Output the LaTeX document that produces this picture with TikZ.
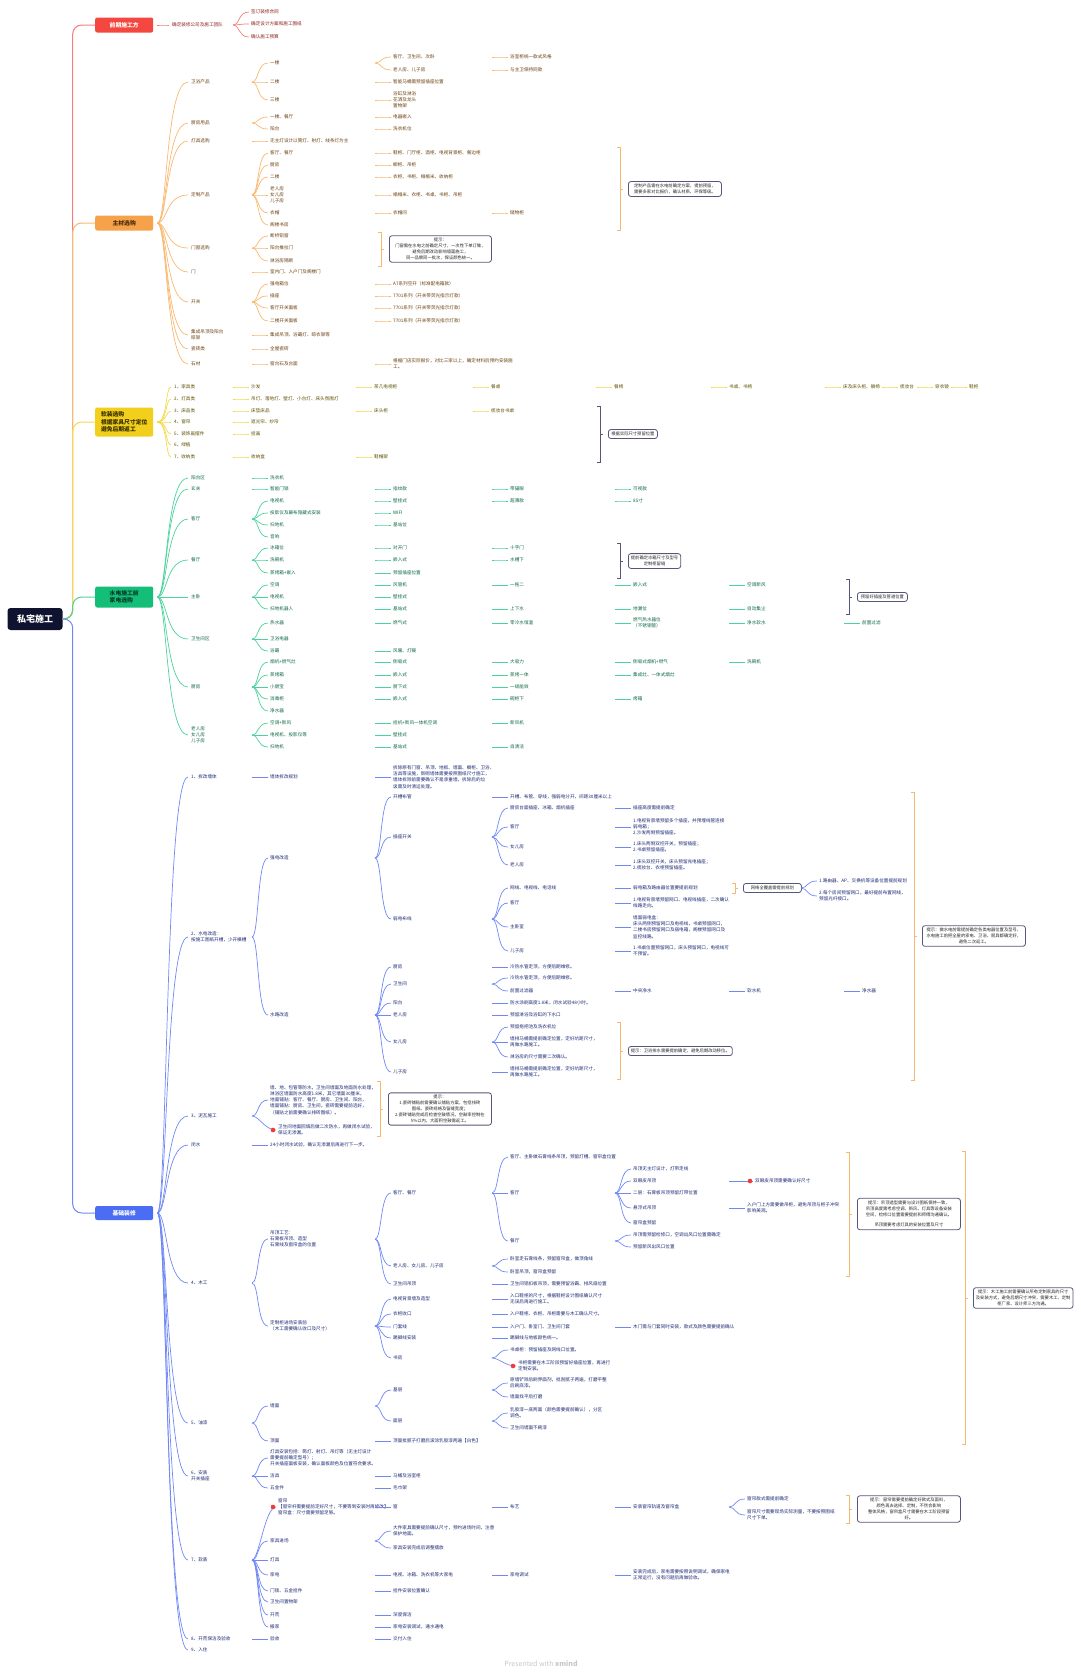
\documentclass[tikz,border=0pt]{standalone}
\usepackage{fontspec}
\setmainfont{Noto Sans CJK SC}
\usetikzlibrary{calc}

\definecolor{rootC}{HTML}{10132F}
\definecolor{redC}{HTML}{F4473F}
\definecolor{redL}{HTML}{F77D78}
\definecolor{redT}{HTML}{8A1F1A}
\definecolor{orC}{HTML}{F6A24A}
\definecolor{orL}{HTML}{F9B870}
\definecolor{orT}{HTML}{6B3E0C}
\definecolor{yeC}{HTML}{F1CF1C}
\definecolor{yeL}{HTML}{F3D94C}
\definecolor{yeT}{HTML}{5E4F00}
\definecolor{grC}{HTML}{14BE79}
\definecolor{grL}{HTML}{4CD29C}
\definecolor{grT}{HTML}{0B6641}
\definecolor{blC}{HTML}{4B6DF4}
\definecolor{blL}{HTML}{7088F6}
\definecolor{blT}{HTML}{1B2873}
\definecolor{boxD}{HTML}{56567A}
\definecolor{dotC}{HTML}{F23B36}

% child of a main topic
\newcommand{\brn}[5]{%
  \node[leaf#1] (#3) at (#4) {#5};
  \draw[line#1] ($(#2.east)+(4,0)$) .. controls ($(#2.east)+(14,0)$) and ($(#2.east |- #3.west)+(12,0)$) .. ($(#3.west)+(-3,0)$);}
% child of a sub topic
\newcommand{\kid}[6][18]{%
  \node[leaf#2] (#4) at (#5) {#6};
  \draw[line#2] ($(#4.west |- #3.west)+(-#1,0)$) .. controls ($(#4.west |- #3.west)+(-#1+7,0)$) and ($(#4.west)+(-13,0)$) .. ($(#4.west)+(-2,0)$);}
% summary box with its bracket
\newcommand{\summ}[6][60]{%
  \node[sumbox, minimum width=#1] (#3) at (#4) {#6};
  \draw[#2] ($(#3.west)+(-11,-#5)$) -- ++(3,0) -- ++(0,2*#5) -- ++(-3,0);
  \draw[#2] ($(#3.west)+(-8,0)$) -- ++(3,0);}

\begin{document}
\begin{tikzpicture}[x=1pt, y=-1pt, font=\fontsize{4.6}{6.2}\selectfont,
    leaf/.style={anchor=west, inner xsep=0pt, inner ysep=0.5pt, align=left},
    leafR/.style={leaf, text=redT}, leafO/.style={leaf, text=orT},
    leafY/.style={leaf, text=yeT}, leafG/.style={leaf, text=grT},
    leafB/.style={leaf, text=blT},
    lineR/.style={draw=redL, line width=0.7pt}, lineO/.style={draw=orL, line width=0.7pt},
    lineY/.style={draw=yeL, line width=0.7pt}, lineG/.style={draw=grL, line width=0.7pt},
    lineB/.style={draw=blL, line width=0.7pt},
    trunk/.style={line width=1pt, rounded corners=9pt},
    rootbox/.style={rounded corners=3pt, fill=rootC, text=white, minimum width=55pt, minimum height=22pt, font=\fontsize{9}{11}\selectfont\bfseries},
    mainbox/.style={anchor=west, rounded corners=2pt, minimum width=58pt, inner xsep=5pt, align=left, font=\fontsize{5.8}{7.4}\selectfont\bfseries},
    sumbox/.style={anchor=west, draw=boxD, line width=0.8pt, rounded corners=2.5pt, fill=white, align=center, text=black!85, font=\fontsize{4.3}{5.8}\selectfont, inner sep=2.5pt},
    brO/.style={draw=orL, line width=0.8pt}, brD/.style={draw=boxD, line width=0.8pt}]

    \useasboundingbox (0,0) rectangle (1080,1674);

    % Root and main topics
    \node[rootbox] (root) at (35,619) {私宅施工};
    \node[mainbox, fill=redC, text=white, minimum height=15pt] (pre) at (95,25) {前期施工方};
    \node[mainbox, fill=orC, text=orT!70!black, minimum height=15pt] (mat) at (95,223) {主材选购};
    \node[mainbox, fill=yeC, text=yeT!60!black, minimum height=29pt] (soft) at (95,422) {软装选购\\根据家具尺寸定位\\避免后期返工};
    \node[mainbox, fill=grC, text=grT!60!black, minimum height=21pt] (elec) at (95,597) {水电施工前\\家电选购};
    \node[mainbox, fill=blC, text=white, minimum height=14pt] (base) at (95,1213) {基础装修};

    \draw[trunk, draw=redL] (root.east) -- ++(10,0) |- (pre.west);
    \draw[trunk, draw=orL] (root.east) -- ++(10,0) |- (mat.west);
    \draw[trunk, draw=yeL] (root.east) -- ++(10,0) |- (soft.west);
    \draw[trunk, draw=grL] (root.east) -- ++(10,0) |- (elec.west);
    \draw[trunk, draw=blL] (root.east) -- ++(10,0) |- (base.west);

    % Red branch
    \brn{R}{pre}{r1}{172,25}{确定装修公司及施工团队}
    \kid{R}{r1}{r1a}{251,12}{签订装修合同}
    \kid{R}{r1}{r1b}{251,24}{确定设计方案和施工图纸}
    \kid{R}{r1}{r1c}{251,37}{确认施工预算}

    % Orange branch
    \brn{O}{mat}{o1}{191,82}{卫浴产品}
    \kid{O}{o1}{o1a}{270,63}{一楼}
    \kid{O}{o1}{o1b}{270,82}{二楼}
    \kid{O}{o1}{o1c}{270,100}{三楼}
    \kid{O}{o1a}{o1a1}{393,57}{客厅、卫生间、次卧}
    \kid{O}{o1a}{o1a2}{393,70}{老人房、儿子房}
    \kid{O}{o1a1}{o1a1x}{510,57}{浴室柜统一款式风格}
    \kid{O}{o1a2}{o1a2x}{510,70}{与主卫保持同款}
    \kid{O}{o1b}{o1b1}{393,82}{智能马桶需预留插座位置}
    \kid{O}{o1c}{o1c1}{393,100}{浴缸及淋浴\\花洒及龙头\\置物架}

    \brn{O}{mat}{o2}{191,123}{厨房用品}
    \kid{O}{o2}{o2a}{270,117}{一楼、餐厅}
    \kid{O}{o2}{o2b}{270,129}{阳台}
    \kid{O}{o2a}{o2a1}{393,117}{电器嵌入}
    \kid{O}{o2b}{o2b1}{393,129}{洗衣机位}

    \brn{O}{mat}{o3}{191,141}{灯具选购}
    \kid{O}{o3}{o3a}{270,141}{无主灯设计以筒灯、射灯、线条灯为主}

    \brn{O}{mat}{o4}{191,195}{定制产品}
    \kid{O}{o4}{o4a}{270,153}{客厅、餐厅}
    \kid{O}{o4}{o4b}{270,165}{厨房}
    \kid{O}{o4}{o4c}{270,177}{二楼}
    \kid{O}{o4}{o4d}{270,195}{老人房\\女儿房\\儿子房}
    \kid{O}{o4}{o4e}{270,213}{衣帽}
    \kid{O}{o4}{o4f}{270,225}{阁楼书房}
    \kid{O}{o4a}{o4a1}{393,153}{鞋柜、门厅柜、酒柜、电视背景柜、餐边柜}
    \kid{O}{o4b}{o4b1}{393,165}{橱柜、吊柜}
    \kid{O}{o4c}{o4c1}{393,177}{衣柜、书柜、榻榻米、收纳柜}
    \kid{O}{o4d}{o4d1}{393,195}{榻榻米、衣柜、书桌、书柜、吊柜}
    \kid{O}{o4e}{o4e1}{393,213}{衣帽间}
    \kid{O}{o4e1}{o4e2}{510,213}{储物柜}
    \summ[93]{brO}{s1}{628,189}{41.5}{定制产品需在水电前确定方案，提前预留，\\需要多家对比报价，确认材质、环保等级。}

    \brn{O}{mat}{o5}{191,248}{门窗选购}
    \kid{O}{o5}{o5a}{270,236}{断桥铝窗}
    \kid{O}{o5}{o5b}{270,248}{阳台推拉门}
    \kid{O}{o5}{o5c}{270,261}{淋浴房隔断}
    \summ[102]{brO}{s2}{389,249}{17}{提示：\\门窗需在水电之前确定尺寸，一次性下单订做，\\避免后期改动影响墙面施工，\\同一品牌同一批次，保证颜色统一。}

    \brn{O}{mat}{o6}{191,272}{门}
    \kid{O}{o6}{o6a}{270,272}{室内门、入户门及阁楼门}

    \brn{O}{mat}{o7}{191,302}{开关}
    \kid{O}{o7}{o7a}{270,284}{强电箱位}
    \kid{O}{o7}{o7b}{270,296}{插座}
    \kid{O}{o7}{o7c}{270,308}{客厅开关面板}
    \kid{O}{o7}{o7d}{270,321}{二楼开关面板}
    \kid{O}{o7a}{o7a1}{393,284}{A7系列空开（标准配电箱款）}
    \kid{O}{o7b}{o7b1}{393,296}{7701系列（开关带荧光指示灯款）}
    \kid{O}{o7c}{o7c1}{393,308}{7701系列（开关带荧光指示灯款）}
    \kid{O}{o7d}{o7d1}{393,321}{7701系列（开关带荧光指示灯款）}

    \brn{O}{mat}{o8}{191,335}{集成吊顶及阳台\\晾架}
    \kid{O}{o8}{o8a}{270,335}{集成吊顶、浴霸灯、晾衣架等}
    \brn{O}{mat}{o9}{191,349}{瓷砖类}
    \kid{O}{o9}{o9a}{270,349}{全屋瓷砖}
    \brn{O}{mat}{o10}{191,364}{石材}
    \kid{O}{o10}{o10a}{270,364}{窗台石及台面}
    \kid{O}{o10a}{o10a1}{393,364}{根据门店实际报价，对比三家以上，确定材料后预约安装施\\工。}

    % Yellow branch
    \brn{Y}{soft}{y1}{174,387}{1、家具类}
    \brn{Y}{soft}{y2}{174,399}{2、灯具类}
    \brn{Y}{soft}{y3}{174,411}{3、床品类}
    \brn{Y}{soft}{y4}{174,422}{4、窗帘}
    \brn{Y}{soft}{y5}{174,434}{5、装饰画摆件}
    \brn{Y}{soft}{y6}{174,445}{6、绿植}
    \brn{Y}{soft}{y7}{174,457}{7、收纳类}
    \kid{Y}{y1}{y1a}{251,387}{沙发}
    \kid{Y}{y1a}{y1b}{374,387}{茶几电视柜}
    \kid{Y}{y1b}{y1c}{491,387}{餐桌}
    \kid{Y}{y1c}{y1d}{614,387}{餐椅}
    \kid{Y}{y1d}{y1e}{729,387}{书桌、书椅}
    \kid{Y}{y1e}{y1f}{843,387}{床及床头柜、躺椅}
    \kid{Y}{y1f}{y1g}{900,387}{梳妆台}
    \kid{Y}{y1g}{y1h}{935,387}{穿衣镜}
    \kid{Y}{y1h}{y1i}{969,387}{鞋柜}
    \kid{Y}{y2}{y2a}{251,399}{吊灯、落地灯、壁灯、小台灯、床头氛围灯}
    \kid{Y}{y3}{y3a}{251,411}{床垫床品}
    \kid{Y}{y3a}{y3b}{374,411}{床头柜}
    \kid{Y}{y3b}{y3c}{491,411}{梳妆台书桌}
    \kid{Y}{y4}{y4a}{251,422}{遮光帘、纱帘}
    \kid{Y}{y5}{y5a}{251,434}{挂画}
    \kid{Y}{y7}{y7a}{251,457}{收纳盒}
    \kid{Y}{y7a}{y7b}{374,457}{鞋帽架}
    \summ[49]{brD}{s3}{608,434}{28}{根据实际尺寸预留位置}

    % Green branch
    \brn{G}{elec}{g1}{191,478}{阳台区}
    \kid{G}{g1}{g1a}{270,478}{洗衣机}
    \brn{G}{elec}{g2}{191,489}{玄关}
    \kid{G}{g2}{g2a}{270,489}{智能门锁}
    \kid{G}{g2a}{g2b}{393,489}{指纹款}
    \kid{G}{g2b}{g2c}{510,489}{带猫眼}
    \kid{G}{g2c}{g2d}{633,489}{可视款}

    \brn{G}{elec}{g3}{191,519}{客厅}
    \kid{G}{g3}{g3a}{270,501}{电视机}
    \kid{G}{g3}{g3b}{270,513}{投影仪及幕布隐藏式安装}
    \kid{G}{g3}{g3c}{270,525}{扫地机}
    \kid{G}{g3}{g3d}{270,537}{音响}
    \kid{G}{g3a}{g3a1}{393,501}{壁挂式}
    \kid{G}{g3b}{g3b1}{393,513}{WIFI}
    \kid{G}{g3c}{g3c1}{393,525}{基站位}
    \kid{G}{g3a1}{g3a2}{510,501}{超薄款}
    \kid{G}{g3a2}{g3a3}{633,501}{85寸}

    \brn{G}{elec}{g4}{191,560}{餐厅}
    \kid{G}{g4}{g4a}{270,548}{冰箱位}
    \kid{G}{g4}{g4b}{270,560}{洗碗机}
    \kid{G}{g4}{g4c}{270,573}{蒸烤箱+嵌入}
    \kid{G}{g4a}{g4a1}{393,548}{对开门}
    \kid{G}{g4b}{g4b1}{393,560}{嵌入式}
    \kid{G}{g4c}{g4c1}{393,573}{预留插座位置}
    \kid{G}{g4a1}{g4a2}{510,548}{十字门}
    \kid{G}{g4b1}{g4b2}{510,560}{水槽下}
    \summ[49]{brD}{s4}{628,561}{17.5}{提前确定冰箱尺寸及型号\\定制柜留缝}

    \brn{G}{elec}{g5}{191,597}{主卧}
    \kid{G}{g5}{g5a}{270,585}{空调}
    \kid{G}{g5}{g5b}{270,597}{电视机}
    \kid{G}{g5}{g5c}{270,609}{扫地机器人}
    \kid{G}{g5a}{g5a1}{393,585}{风管机}
    \kid{G}{g5b}{g5b1}{393,597}{壁挂式}
    \kid{G}{g5c}{g5c1}{393,609}{基站式}
    \kid{G}{g5a1}{g5a2}{510,585}{一拖二}
    \kid{G}{g5c1}{g5c2}{510,609}{上下水}
    \kid{G}{g5a2}{g5a3}{633,585}{嵌入式}
    \kid{G}{g5c2}{g5c3}{633,609}{地漏位}
    \kid{G}{g5a3}{g5a4}{747,585}{空调新风}
    \kid{G}{g5c3}{g5c4}{747,609}{自动集尘}
    \summ[50]{brD}{s5}{857,597}{17.5}{预留好插座及管道位置}

    \brn{G}{elec}{g6}{191,639}{卫生间区}
    \kid{G}{g6}{g6a}{270,623}{热水器}
    \kid{G}{g6}{g6b}{270,639}{卫浴电器}
    \kid{G}{g6}{g6c}{270,651}{浴霸}
    \kid{G}{g6a}{g6a1}{393,623}{燃气式}
    \kid{G}{g6c}{g6c1}{393,651}{风暖、灯暖}
    \kid{G}{g6a1}{g6a2}{510,623}{零冷水恒温}
    \kid{G}{g6a2}{g6a3}{633,623}{燃气热水器位\\（不锈钢管）}
    \kid{G}{g6a3}{g6a4}{747,623}{净水软水}
    \kid{G}{g6a4}{g6a5}{862,623}{前置过滤}

    \brn{G}{elec}{g7}{191,687}{厨房}
    \kid{G}{g7}{g7a}{270,662}{烟机+燃气灶}
    \kid{G}{g7}{g7b}{270,675}{蒸烤箱}
    \kid{G}{g7}{g7c}{270,687}{小厨宝}
    \kid{G}{g7}{g7d}{270,699}{消毒柜}
    \kid{G}{g7}{g7e}{270,711}{净水器}
    \kid{G}{g7a}{g7a1}{393,662}{侧吸式}
    \kid{G}{g7b}{g7b1}{393,675}{嵌入式}
    \kid{G}{g7c}{g7c1}{393,687}{厨下式}
    \kid{G}{g7d}{g7d1}{393,699}{嵌入式}
    \kid{G}{g7a1}{g7a2}{510,662}{大吸力}
    \kid{G}{g7b1}{g7b2}{510,675}{蒸烤一体}
    \kid{G}{g7c1}{g7c2}{510,687}{一级能效}
    \kid{G}{g7d1}{g7d2}{510,699}{碗柜下}
    \kid{G}{g7a2}{g7a3}{633,662}{侧吸式烟机+燃气}
    \kid{G}{g7b2}{g7b3}{633,675}{集成灶、一体式烟灶}
    \kid{G}{g7d2}{g7d3}{633,699}{烤箱}
    \kid{G}{g7a3}{g7a4}{747,662}{洗碗机}

    \brn{G}{elec}{g8}{191,735}{老人房\\女儿房\\儿子房}
    \kid{G}{g8}{g8a}{270,723}{空调+新风}
    \kid{G}{g8}{g8b}{270,735}{电视机、投影仪等}
    \kid{G}{g8}{g8c}{270,747}{扫地机}
    \kid{G}{g8a}{g8a1}{393,723}{挂机+新风一体机空调}
    \kid{G}{g8b}{g8b1}{393,735}{壁挂式}
    \kid{G}{g8c}{g8c1}{393,747}{基站式}
    \kid{G}{g8a1}{g8a2}{510,723}{新风机}
    \kid{G}{g8c1}{g8c2}{510,747}{自清洁}

    % Blue branch
    \brn{B}{base}{b1}{191,777}{1、拆改墙体}
    \kid{B}{b1}{b1a}{270,777}{墙体拆改规划}
    \kid{B}{b1a}{b1a1}{393,777}{拆除原有门窗、吊顶、地板、墙面、橱柜、卫浴、\\洁具等设施，新砌墙体需要按照图纸尺寸施工，\\墙体拆除前需要确认不是承重墙，拆除后的垃\\圾需及时清运处理。}

    \brn{B}{base}{b2}{191,937}{2、水电改造：\\按施工图纸开槽，少开横槽}
    \kid{B}{b2}{b2a}{270,858}{强电改造}
    \kid{B}{b2}{b2b}{270,1015}{水路改造}
    \kid{B}{b2a}{b2a1}{393,797}{开槽布管}
    \kid{B}{b2a}{b2a2}{393,837}{插座开关}
    \kid{B}{b2a}{b2a3}{393,919}{弱电布线}
    \kid{B}{b2a1}{b2a1x}{510,797}{开槽、布管、穿线，强弱电分开，间距30厘米以上}
    \kid{B}{b2a2}{b2c1}{510,808}{厨房台面插座、冰箱、烟机插座}
    \kid{B}{b2a2}{b2c2}{510,827}{客厅}
    \kid{B}{b2a2}{b2c3}{510,847}{女儿房}
    \kid{B}{b2a2}{b2c4}{510,865}{老人房}
    \kid{B}{b2c1}{b2c1x}{633,808}{插座高度需提前确定}
    \kid{B}{b2c2}{b2c2x}{633,827}{1.电视背景墙预留多个插座，并预埋线管连接\\弱电箱；\\2.沙发两侧预留插座。}
    \kid{B}{b2c3}{b2c3x}{633,847}{1.床头两侧双控开关，预留插座；\\2.书桌预留插座。}
    \kid{B}{b2c4}{b2c4x}{633,865}{1.床头双控开关，床头预留充电插座；\\2.梳妆台、衣柜预留插座。}
    \kid{B}{b2a3}{b2d1}{510,888}{网线、电视线、电话线}
    \kid{B}{b2a3}{b2d2}{510,903}{客厅}
    \kid{B}{b2a3}{b2d3}{510,927}{主卧室}
    \kid{B}{b2a3}{b2d4}{510,951}{儿子房}
    \kid{B}{b2d1}{b2d1x}{633,888}{弱电箱及路由器位置要提前规划}
    \summ[58]{brO}{s6}{743,888}{5}{网络全覆盖需提前规划}
    \kid{B}{s6}{b2e1}{819,881}{1.路由器、AP、交换机等设备位置提前规划}
    \kid{B}{s6}{b2e2}{819,896}{2.每个房间预留网口，最好提前布置网线，\\预留光纤接口。}
    \kid{B}{b2d2}{b2d2x}{633,903}{1.电视背景墙预留网口、电视线插座，二次确认\\线路走向。}
    \kid{B}{b2d3}{b2d3x}{633,927}{墙面弱电盒：\\床头两侧预留网口及电视线，书桌预留网口，\\二楼书房预留网口及弱电箱，阁楼预留网口及\\监控线路。}
    \kid{B}{b2d4}{b2d4x}{633,951}{1.书桌位置预留网口，床头预留网口，电视线可\\不预留。}
    \kid{B}{b2b}{b2b1}{393,967}{厨房}
    \kid{B}{b2b}{b2b2}{393,984}{卫生间}
    \kid{B}{b2b}{b2b3}{393,1003}{阳台}
    \kid{B}{b2b}{b2b4}{393,1015}{老人房}
    \kid{B}{b2b}{b2b5}{393,1042}{女儿房}
    \kid{B}{b2b}{b2b6}{393,1072}{儿子房}
    \kid{B}{b2b1}{b2b1x}{510,967}{冷热水管走顶，方便后期维修。}
    \kid{B}{b2b2}{b2b2x}{510,978}{冷热水管走顶，方便后期维修。}
    \kid{B}{b2b2}{b2b2y}{510,991}{前置过滤器}
    \kid{B}{b2b2y}{b2b2z}{633,991}{中央净水}
    \kid{B}{b2b2z}{b2b2w}{747,991}{软水机}
    \kid{B}{b2b2w}{b2b2v}{862,991}{净水器}
    \kid{B}{b2b3}{b2b3x}{510,1003}{防水涂刷高度1.8米，闭水试验48小时。}
    \kid{B}{b2b4}{b2b4x}{510,1015}{预留淋浴及浴缸的下水口}
    \kid{B}{b2b5}{b2b5x}{510,1027}{预留拖把池及洗衣机位}
    \kid{B}{b2b5}{b2b5y}{510,1042}{墙排马桶需提前确定位置，定好坑距尺寸，\\再做水路施工。}
    \kid{B}{b2b5}{b2b5z}{510,1057}{淋浴房的尺寸需要二次确认。}
    \kid{B}{b2b6}{b2b6x}{510,1072}{墙排马桶需提前确定位置，定好坑距尺寸，\\再做水路施工。}
    \summ[98]{brO}{s7}{628,1051}{28.5}{提示：卫浴排水需要提前确定，避免后期改动移位。}
    \summ[103]{brO}{s8}{922,936}{144}{提示：做水电前需提前确定各类电器位置及型号，\\水电施工前把全屋的家电、卫浴、厨具都确定好，\\避免二次返工。}

    \brn{B}{base}{b3}{191,1116}{3、泥瓦施工}
    \kid{B}{b3}{b3a}{270,1100}{墙、地、包管等防水，卫生间墙面及地面防水处理，\\淋浴区墙面防水高度1.8米，其它墙面30厘米，\\地面铺贴：客厅、餐厅、厨房、卫生间、阳台，\\墙面铺贴：厨房、卫生间，瓷砖需要提前选好，\\（铺贴之前需要确认排砖图纸）。}
    \kid[26]{B}{b3}{b3b}{278,1130}{卫生间地面回填后做二次防水，再做闭水试验，\\保证无渗漏。}
    \fill[dotC] ($(b3b.west)+(-5,0)$) circle (2.3pt);
    \summ[103]{brO}{s9}{388,1109}{27.5}{提示：\\1.瓷砖铺贴前需要确认铺贴方案，包括排砖\\图纸、瓷砖规格及留缝宽度；\\2.瓷砖铺贴完成后检查空鼓情况，空鼓率控制在\\5\%以内，大面积空鼓需返工。}

    \brn{B}{base}{b4}{191,1145}{闭水}
    \kid{B}{b4}{b4a}{270,1145}{24小时闭水试验，确认无渗漏后再进行下一步。}

    \brn{B}{base}{b5}{191,1283}{4、木工}
    \kid{B}{b5}{b5a}{270,1239}{吊顶工艺：\\石膏板吊顶、造型\\石膏线及窗帘盒的位置}
    \kid{B}{b5}{b5b}{270,1326}{定制柜进场安装前\\（木工需要确认收口及尺寸）}
    \kid{B}{b5a}{b5a1}{393,1193}{客厅、餐厅}
    \kid{B}{b5a}{b5a2}{393,1266}{老人房、女儿房、儿子房}
    \kid{B}{b5a}{b5a3}{393,1284}{卫生间吊顶}
    \kid{B}{b5a1}{b5p1}{510,1157}{客厅、主卧做石膏线条吊顶，预留灯槽、窗帘盒位置}
    \kid{B}{b5a1}{b5p2}{510,1193}{客厅}
    \kid{B}{b5a1}{b5p3}{510,1241}{餐厅}
    \kid{B}{b5p2}{b5q1}{633,1169}{吊顶无主灯设计，灯带走线}
    \kid{B}{b5p2}{b5q2}{633,1181}{双眼皮吊顶}
    \kid{B}{b5p2}{b5q3}{633,1193}{二层：石膏板吊顶预留灯带位置}
    \kid{B}{b5p2}{b5q4}{633,1208}{悬浮式吊顶}
    \kid{B}{b5p2}{b5q5}{633,1223}{窗帘盒预留}
    \kid[26]{B}{b5q2}{b5r1}{755,1181}{双眼皮吊顶需要确认好尺寸}
    \fill[dotC] ($(b5r1.west)+(-5,0)$) circle (2.3pt);
    \kid{B}{b5q4}{b5r2}{747,1208}{入户门上方需要做吊柜，避免吊顶与柜子冲突\\影响美观。}
    \kid{B}{b5p3}{b5q6}{633,1235}{吊顶需预留检修口，空调出风口位置需确定}
    \kid{B}{b5p3}{b5q7}{633,1247}{预留新风出风口位置}
    \summ[103]{brO}{s10}{857,1214}{62}{提示：吊顶造型需要与设计图纸保持一致，\\吊顶高度需考虑空调、新风、灯具等设备安装\\空间，检修口位置需要提前和师傅沟通确认。\\[5pt]吊顶需要考虑灯具的安装位置及尺寸}
    \kid{B}{b5a2}{b5a2x}{510,1259}{卧室走石膏线条，预留窗帘盒，做顶角线}
    \kid{B}{b5a2}{b5a2y}{510,1272}{卧室吊顶，窗帘盒预留}
    \kid{B}{b5a3}{b5a3x}{510,1284}{卫生间铝扣板吊顶，需要预留浴霸、排风扇位置}
    \kid{B}{b5b}{b5b1}{393,1299}{电视背景墙及造型}
    \kid{B}{b5b}{b5b2}{393,1314}{衣柜收口}
    \kid{B}{b5b}{b5b3}{393,1327}{门套线}
    \kid{B}{b5b}{b5b4}{393,1338}{踢脚线安装}
    \kid{B}{b5b}{b5b5}{393,1358}{书房}
    \kid{B}{b5b1}{b5b1x}{510,1299}{入口鞋柜的尺寸，根据鞋柜设计图纸确认尺寸\\无误后再进行施工。}
    \kid{B}{b5b2}{b5b2x}{510,1314}{入户鞋柜、衣柜、吊柜需要与木工确认尺寸。}
    \kid{B}{b5b3}{b5b3x}{510,1327}{入户门、卧室门、卫生间门套}
    \kid{B}{b5b3x}{b5b3y}{633,1327}{木门需与门套同时安装，款式及颜色需要提前确认}
    \kid{B}{b5b4}{b5b4x}{510,1338}{踢脚线与地板颜色统一。}
    \kid{B}{b5b5}{b5b5x}{510,1350}{书桌柜：预留插座及网线口位置。}
    \kid[26]{B}{b5b5}{b5b5y}{518,1366}{书柜需要在木工阶段预留好插座位置，再进行\\定制安装。}
    \fill[dotC] ($(b5b5y.west)+(-5,0)$) circle (2.3pt);
    \summ[99]{brO}{s11}{973,1298}{146.5}{提示：木工施工前需要确认所有定制家具的尺寸\\及安装方式，避免后期尺寸冲突，需要木工、定制\\柜厂家、设计师三方沟通。}

    \brn{B}{base}{b6}{191,1423}{5、油漆}
    \kid{B}{b6}{b6a}{270,1406}{墙面}
    \kid{B}{b6}{b6b}{270,1441}{顶面}
    \kid{B}{b6a}{b6a1}{393,1390}{基层}
    \kid{B}{b6a}{b6a2}{393,1421}{面层}
    \kid{B}{b6a1}{b6a1x}{510,1383}{原墙铲除后刷界面剂，批刮腻子两遍，打磨平整\\后刷底漆。}
    \kid{B}{b6a1}{b6a1y}{510,1397}{墙面找平后打磨}
    \kid{B}{b6a2}{b6a2x}{510,1413}{乳胶漆一底两面（颜色需要提前确认），分区\\调色。}
    \kid{B}{b6a2}{b6a2y}{510,1428}{卫生间墙面不刷漆}
    \kid{B}{b6b}{b6b1}{393,1441}{顶面批腻子打磨后滚涂乳胶漆两遍【白色】}

    \brn{B}{base}{b7}{191,1476}{6、安装\\开关插座}
    \kid{B}{b7}{b7a}{270,1458}{灯具安装包括：筒灯、射灯、吊灯等（无主灯设计\\需要提前确定型号）；\\开关插座面板安装，确认面板颜色及位置符合要求。}
    \kid{B}{b7}{b7b}{270,1476}{洁具}
    \kid{B}{b7}{b7c}{270,1488}{五金件}
    \kid{B}{b7b}{b7b1}{393,1476}{马桶及浴室柜}
    \kid{B}{b7c}{b7c1}{393,1488}{毛巾架}

    \brn{B}{base}{b8}{191,1560}{7、软装}
    \kid[26]{B}{b8}{b8a}{278,1507}{窗帘\\【窗帘杆需要提前定好尺寸，不要等到安装时再修改】\\窗帘盒：尺寸需要预留足够。}
    \fill[dotC] ($(b8a.west)+(-5,0)$) circle (2.3pt);
    \kid{B}{b8}{b8b}{270,1541}{家具进场}
    \kid{B}{b8}{b8c}{270,1560}{灯具}
    \kid{B}{b8}{b8d}{270,1575}{家电}
    \kid{B}{b8}{b8e}{270,1591}{门锁、五金挂件}
    \kid{B}{b8}{b8f}{270,1602}{卫生间置物架}
    \kid{B}{b8}{b8g}{270,1615}{开荒}
    \kid{B}{b8}{b8h}{270,1627}{搬家}
    \kid{B}{b8a}{b8a1}{393,1507}{窗}
    \kid{B}{b8a1}{b8a2}{510,1507}{布艺}
    \kid{B}{b8a2}{b8a3}{633,1507}{安装窗帘轨道及窗帘盒}
    \kid{B}{b8a3}{b8a4}{747,1499}{窗帘款式需提前确定}
    \kid{B}{b8a3}{b8a5}{747,1515}{窗帘尺寸需要现场实际测量，不要按照图纸\\尺寸下单。}
    \summ[103]{brO}{s12}{857,1509}{14}{提示：窗帘需要提前确定好款式及面料，\\颜色再去选择、定制，不然会影响\\整体风格，窗帘盒尺寸需要在木工阶段预留\\好。}
    \kid{B}{b8b}{b8b1}{393,1531}{大件家具需要提前确认尺寸，预约进场时间，注意\\保护地面。}
    \kid{B}{b8b}{b8b2}{393,1548}{家具安装完成后调整摆放}
    \kid{B}{b8d}{b8d1}{393,1575}{电视、冰箱、洗衣机等大家电}
    \kid{B}{b8d1}{b8d2}{510,1575}{家电调试}
    \kid{B}{b8d2}{b8d3}{633,1575}{安装完成后，家电需要按照说明调试，确保家电\\正常运行，没有问题后再做验收。}
    \kid{B}{b8e}{b8e1}{393,1591}{挂件安装位置确认}
    \kid{B}{b8g}{b8g1}{393,1615}{深度保洁}
    \kid{B}{b8h}{b8h1}{393,1627}{家电安装调试，通水通电}

    \brn{B}{base}{b9}{191,1639}{8、开荒保洁及验收}
    \kid{B}{b9}{b9a}{270,1639}{验收}
    \kid{B}{b9a}{b9a1}{393,1639}{交付入住}
    \brn{B}{base}{b10}{191,1650}{9、入住}

    % Watermark
    \node[text=black!22, font=\fontsize{7}{8}\selectfont] (mark) at (541,1664) {Presented with \textbf{xmind}};

\end{tikzpicture}
\end{document}
